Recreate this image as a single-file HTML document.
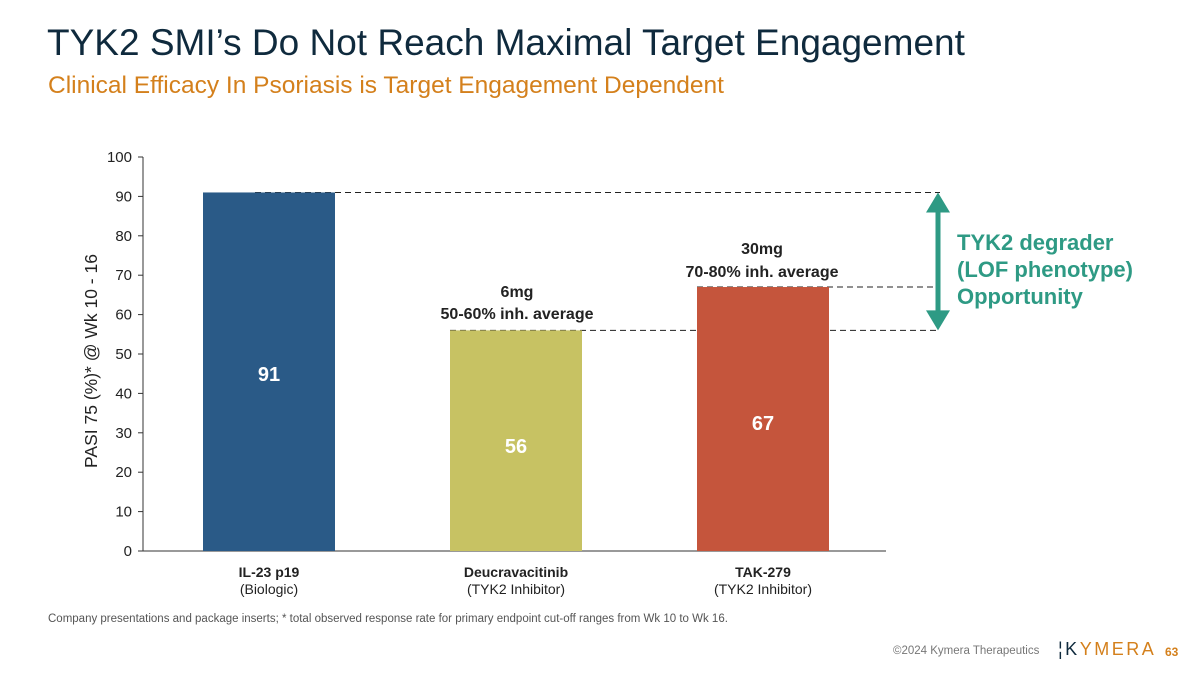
<!DOCTYPE html>
<html><head><meta charset="utf-8"><style>
body{margin:0;width:1200px;height:675px;background:#fff;font-family:"Liberation Sans",sans-serif;position:relative;overflow:hidden}
.t{position:absolute;white-space:nowrap}
</style></head><body>
<div class="t" style="left:47px;top:22px;font-size:37px;color:#0f2a3d">TYK2 SMI’s Do Not Reach Maximal Target Engagement</div>
<div class="t" style="left:48px;top:72px;font-size:24.5px;color:#d4801c">Clinical Efficacy In Psoriasis is Target Engagement Dependent</div>
<svg id="chart" width="1200" height="675" style="position:absolute;left:0;top:0"></svg>
<div class="t" style="left:48px;top:613px;font-size:11.5px;color:#555">Company presentations and package inserts; * total observed response rate for primary endpoint cut-off ranges from Wk 10 to Wk 16.</div>
<div class="t" style="left:893px;top:645px;font-size:11.5px;color:#777">©2024 Kymera Therapeutics</div>
<div class="t" style="left:1058px;top:639px;font-size:18px;color:#d4801c;letter-spacing:2.5px"><span style="color:#0f2a3d">¦K</span>YMERA</div>
<div class="t" style="left:1165px;top:645px;font-size:12px;color:#d4801c;font-weight:bold">63</div>
<script>
const categories=["IL-23 p19","Deucravacitinib","TAK-279"];
const subLabels=["(Biologic)","(TYK2 Inhibitor)","(TYK2 Inhibitor)"];
const values=[91,56,67];
const colors=["#2a5a87","#c7c263","#c5553c"];
const ticks=[0,10,20,30,40,50,60,70,80,90,100];
const svg=document.getElementById('chart');const NS="http://www.w3.org/2000/svg";
function el(t,a,txt){const e=document.createElementNS(NS,t);for(const k in a)e.setAttribute(k,a[k]);if(txt!=null)e.textContent=txt;svg.appendChild(e);return e;}
const y=v=>551-v*3.94;const xc=i=>269+i*247;const bw=132;
values.forEach((v,i)=>{let d=el('line',{x1:i==0?255:xc(i)-bw/2,x2:940,y1:y(v),y2:y(v),stroke:'#222','stroke-dasharray':'6,4'});});
let ax=el('line',{x1:143,y1:157,x2:143,y2:551,stroke:'#333'});
let bx=el('line',{x1:143,y1:551,x2:886,y2:551,stroke:'#333'});
ticks.forEach(t=>{let l=el('line',{x1:138,x2:143,y1:y(t),y2:y(t),stroke:'#333'});
let tx=el('text',{x:132,y:y(t)+5,'text-anchor':'end','font-size':15,fill:'#222'},t);});
let yt=el('text',{transform:'translate(97,361) rotate(-90)','text-anchor':'middle','font-size':17.5,fill:'#222'},'PASI 75 (%)* @ Wk 10 - 16');
const lblY=[373,445,422];
values.forEach((v,i)=>{let r=el('rect',{x:xc(i)-bw/2,y:y(v),width:bw,height:y(0)-y(v),fill:colors[i]});
let t=el('text',{x:xc(i),y:lblY[i]+8,'text-anchor':'middle','font-size':20,'font-weight':'bold',fill:'#fff'},v);
let c=el('text',{x:xc(i),y:577,'text-anchor':'middle','font-size':14,'font-weight':'bold',fill:'#222'},categories[i]);
let s=el('text',{x:xc(i),y:594,'text-anchor':'middle','font-size':14,fill:'#222'},subLabels[i]);});
[["6mg",517,297],["50-60% inh. average",517,319],["30mg",762,254],["70-80% inh. average",762,277]].forEach(a=>{let t=el('text',{x:a[1],y:a[2],'text-anchor':'middle','font-size':16,'font-weight':'bold',fill:'#222'},a[0]);});
let ar=el('line',{x1:938,x2:938,y1:y(values[0])+18,y2:y(values[1])-18,stroke:'#2e9a84','stroke-width':5});
let a1=el('polygon',{points:`926,${y(values[0])+20} 950,${y(values[0])+20} 938,${y(values[0])}`,fill:'#2e9a84'});
let a2=el('polygon',{points:`926,${y(values[1])-20} 950,${y(values[1])-20} 938,${y(values[1])}`,fill:'#2e9a84'});
[["TYK2 degrader",250],["(LOF phenotype)",277],["Opportunity",304]].forEach(a=>{let t=el('text',{x:957,y:a[1],'font-size':22,'font-weight':'bold',fill:'#2e9a84'},a[0]);});
</script>
</body></html>
